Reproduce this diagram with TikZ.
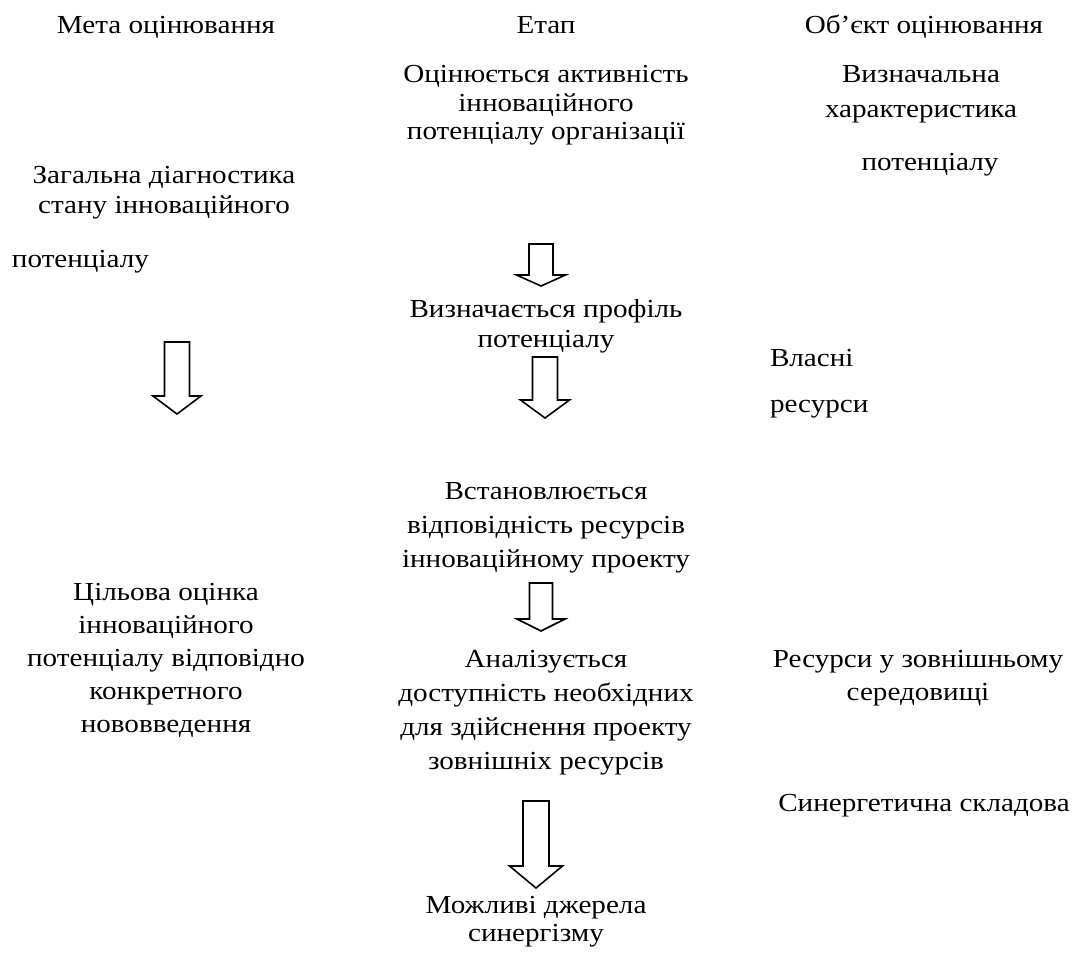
\documentclass[tikz,border=0pt]{standalone}
\usepackage{fontspec}
\setmainfont[FakeStretch=1.12]{Liberation Serif}
\newcommand\blockarr[7]{% name, cx, top, wing y, tip y, half shaft, half wing
  \coordinate (#1) at (#2,#3);
  \draw[blockarrow] (#2-#6,#3) -- (#2+#6,#3) -- (#2+#6,#4) -- (#2+#7,#4)
    -- (#2,#5) -- (#2-#7,#4) -- (#2-#6,#4) -- cycle;}
\begin{document}
\begin{tikzpicture}[x=1pt,y=-1pt,
  lbl/.style={inner sep=0pt,outer sep=0pt,anchor=base,align=center,font=\fontsize{26}{32}\selectfont},
  lbll/.style={lbl,anchor=base west,align=left},
  blockarrow/.style={draw=black,line width=1.6pt,line join=miter,fill=white}]
\useasboundingbox (0,0) rectangle (1077,955);
\fill[white] (0,0) rectangle (1077,955);
% headers
\node[lbl] (meta) at (166,34) {Мета оцінювання};
\node[lbl] (etap) at (546,34) {Етап};
\node[lbl] (obj) at (924,34) {Об’єкт оцінювання};
% right column
\node[lbl,font=\fontsize{26}{35}\selectfont] (vyzn) at (921,118) {Визначальна\\характеристика};
\node[lbl] (vyznpot) at (930,171) {потенціалу};
\node[lbll] (vlasni) at (770,366) {Власні};
\node[lbll] (vlres) at (770,412) {ресурси};
\node[lbl,font=\fontsize{26}{33}\selectfont] (zovn) at (918,700) {Ресурси у зовнішньому\\середовищі};
\node[lbl] (syn) at (924,811) {Синергетична складова};
% centre column
\node[lbl,font=\fontsize{26}{28.5}\selectfont] (ocin) at (546,140) {Оцінюється активність\\інноваційного\\потенціалу організації};
\node[lbl,font=\fontsize{26}{30}\selectfont] (prof) at (546,347) {Визначається профіль\\потенціалу};
\node[lbl,font=\fontsize{26}{34}\selectfont] (vstan) at (546,567) {Встановлюється\\відповідність ресурсів\\інноваційному проекту};
\node[lbl,font=\fontsize{26}{34}\selectfont] (analiz) at (546,769) {Аналізується\\доступність необхідних\\для здійснення проекту\\зовнішніх ресурсів};
\node[lbl,font=\fontsize{26}{28}\selectfont] (mozh) at (536,941) {Можливі джерела\\синергізму};
% left column
\node[lbl,font=\fontsize{26}{30}\selectfont] (zag) at (164,213) {Загальна діагностика\\стану інноваційного};
\node[lbll] (zagpot) at (12,267) {потенціалу};
\node[lbl,font=\fontsize{26}{33}\selectfont] (cil) at (166,732) {Цільова оцінка\\інноваційного\\потенціалу відповідно\\конкретного\\нововведення};
% block arrows
\blockarr{a1}{541}{244}{275}{286}{12}{24.5}
\blockarr{a2}{177}{342}{396}{414}{12.5}{24}
\blockarr{a3}{545}{357}{400}{418}{12.5}{24.5}
\blockarr{a4}{541}{583}{619}{631}{11.5}{24}
\blockarr{a5}{536}{801}{866}{888}{13}{26.5}
\end{tikzpicture}
\end{document}
